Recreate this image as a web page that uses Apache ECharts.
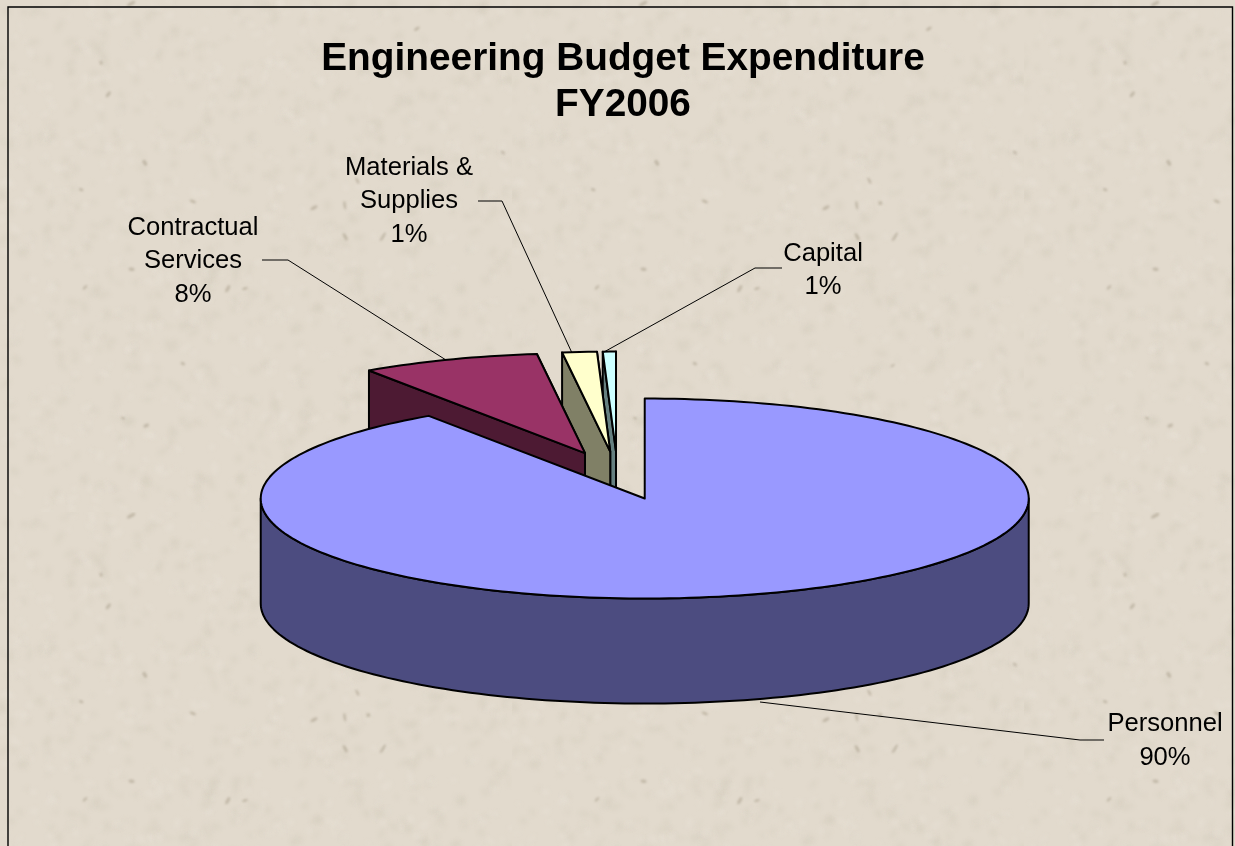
<!DOCTYPE html>
<html>
<head>
<meta charset="utf-8">
<style>html,body{margin:0;padding:0;background:#e2dace}#main{width:1235px;height:846px}</style>
<script src="https://cdn.jsdelivr.net/npm/echarts@6/dist/echarts.min.js"></script>
</head>
<body>
<div id="main"></div>
<script>
// Budget shares, clockwise from twelve o'clock
const categories = ['Personnel', 'Contractual\nServices', 'Materials &\nSupplies', 'Capital'];
const shares = [90.49, 7.51, 1.45, 0.55];
const topColors = ['#9999ff', '#993366', '#ffffcc', '#ccffff'];
const wallColors = ['#4c4c80', '#4d1a33', '#808066', '#668080'];
const paintOrder = [3, 2, 1, 0]; // far slices first so near ones overlap them

// Label anchors and leader polylines, by category index
const labelAnchors = [[1165, 707.5], [193, 211], [409, 151], [823, 237]];
const leaders = [
  [[1104, 740], [1080, 740], [760, 702]],
  [[262, 260], [288, 260], [446, 360]],
  [[478, 201], [502, 201], [572, 353]],
  [[782, 268], [755, 268], [604, 352]]
];

// Projected pie geometry
const CX = 617.6, CY = 475.6, RX = 384, RY = 100, DEPTH = 105, EXPLODE = 0.24;
const INK = '#000';

const total = shares.reduce((a, b) => a + b, 0);
const startAngles = shares.map((_, i) => shares.slice(0, i).reduce((a, b) => a + b, 0) / total * 360);

function rim(cx, cy, deg) {
  const t = deg * Math.PI / 180;
  return [cx + RX * Math.sin(t), cy - RY * Math.cos(t)];
}

function arc(cx, cy, from, to) {
  const pts = [];
  const n = Math.max(2, Math.ceil((to - from) / 1.5));
  for (let i = 0; i <= n; i++) pts.push(rim(cx, cy, from + (to - from) * i / n));
  return pts;
}

function face(points, fill, z2) {
  return {
    type: 'polygon', z2,
    shape: { points },
    style: { fill, stroke: INK, lineWidth: 2, lineJoin: 'round' }
  };
}

function drop(points) {
  return points.map(p => [p[0], p[1] + DEPTH]);
}

function renderSlice(params, api) {
  const i = paintOrder[params.dataIndex];
  const from = startAngles[i];
  const to = from + api.value(0) / total * 360;
  const mid = (from + to) / 2 * Math.PI / 180;
  const cx = CX + EXPLODE * RX * Math.sin(mid);
  const cy = CY - EXPLODE * RY * Math.cos(mid);
  const apex = [cx, cy];
  const first = rim(cx, cy, from);
  const last = rim(cx, cy, to);
  const base = params.dataIndex * 10;
  const children = [];

  // Cut faces, the one further back first
  const cutEnd = [apex, last, [last[0], last[1] + DEPTH], [apex[0], apex[1] + DEPTH]];
  const cutStart = [apex, first, [first[0], first[1] + DEPTH], [apex[0], apex[1] + DEPTH]];
  if (i !== 0) {
    children.push(face(cutEnd, wallColors[i], base));
    children.push(face(cutStart, wallColors[i], base + 1));
  }

  // Outer wall: only the part of the rim that faces the viewer
  const wallFrom = Math.max(from, 90), wallTo = Math.min(to, 270);
  if (wallTo > wallFrom) {
    const upper = arc(cx, cy, wallFrom, wallTo);
    children.push(face(upper.concat(drop(upper).reverse()), wallColors[i], base + 2));
  }

  // Top surface
  children.push(face([apex].concat(arc(cx, cy, from, to)), topColors[i], base + 3));

  // Leader and label
  children.push({
    type: 'polyline', z2: 100,
    shape: { points: leaders[i] },
    style: { fill: null, stroke: '#000', lineWidth: 1 }
  });
  children.push({
    type: 'text', z2: 101,
    x: labelAnchors[i][0], y: labelAnchors[i][1],
    style: {
      text: categories[i] + '\n' + Math.round(api.value(0)) + '%',
      fill: '#000',
      font: '25.6px "Liberation Sans", Arial, sans-serif',
      lineHeight: 33.6,
      align: 'center',
      verticalAlign: 'top'
    }
  });
  return { type: 'group', children };
}

// Parchment backdrop: pale blotches and small soft flecks on a tile
function parchment() {
  const size = 512;
  const c = document.createElement('canvas');
  c.width = c.height = size;
  const g = c.getContext('2d');
  g.fillStyle = '#e2dacd';
  g.fillRect(0, 0, size, size);
  let s = 20061;
  const next = () => (s = (s * 16807) % 2147483647) / 2147483647;
  g.filter = 'blur(2px)';
  for (let i = 0; i < 1500; i++) {
    const light = next() > 0.5;
    g.fillStyle = light ? 'rgba(236,230,220,0.3)' : 'rgba(210,201,184,0.3)';
    g.beginPath();
    g.ellipse(next() * size, next() * size, 2 + next() * 5, 1 + next() * 3, next() * 3, 0, Math.PI * 2);
    g.fill();
  }
  g.filter = 'blur(1.2px)';
  for (let i = 0; i < 22; i++) {
    g.fillStyle = 'rgba(165,155,136,0.5)';
    g.beginPath();
    g.ellipse(next() * size, next() * size, 2 + next() * 3, 1 + next(), next() * 3, 0, Math.PI * 2);
    g.fill();
  }
  return c;
}

const chart = echarts.init(document.getElementById('main'), null, { renderer: 'canvas' });
chart.setOption({
  animation: false,
  backgroundColor: { image: parchment(), repeat: 'repeat' },
  title: {
    text: 'Engineering Budget Expenditure\nFY2006',
    left: 618, top: 31, textAlign: 'center',
    textStyle: {
      fontFamily: '"Liberation Sans", Arial, sans-serif',
      fontSize: 38.8, fontWeight: 'bold', color: '#000', lineHeight: 46
    }
  },
  graphic: [{
    type: 'polyline', silent: true,
    shape: { points: [[8, 860], [8, 7], [1232.5, 7], [1232.5, 860]] },
    style: { fill: null, stroke: '#000', lineWidth: 1.4 }
  }],
  series: [{
    type: 'custom',
    coordinateSystem: 'none',
    renderItem: renderSlice,
    data: paintOrder.map(i => ({ name: categories[i], value: [shares[i]] }))
  }]
});
</script>
</body>
</html>
